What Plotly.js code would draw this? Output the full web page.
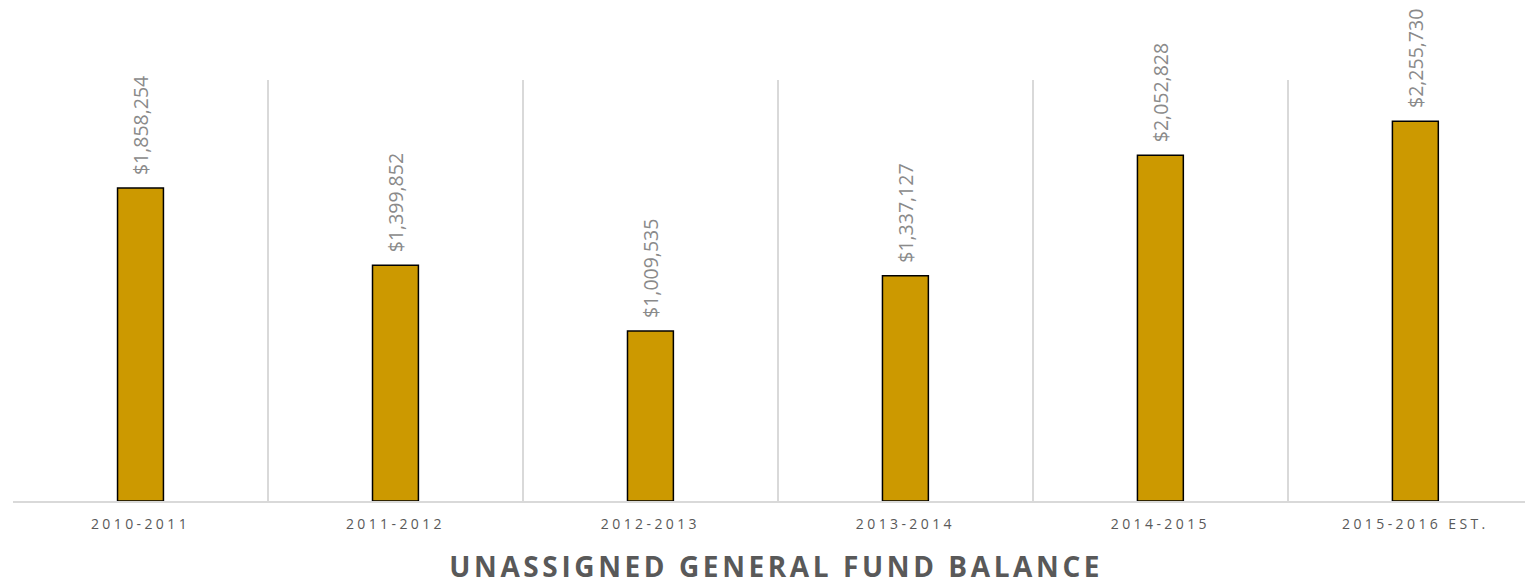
<!DOCTYPE html>
<html>
<head>
<meta charset="utf-8">
<script src="https://cdn.plot.ly/plotly-3.0.1.min.js"></script>
<style>
  html, body { margin: 0; padding: 0; background: #fff; }
  #chart { width: 1525px; height: 584px; }
  .xtick text { letter-spacing: 3.4px; }
  .gtitle { letter-spacing: 3.6px; }
</style>
</head>
<body>
<div id="chart"></div>
<script>
const categories = ["2010-2011", "2011-2012", "2012-2013", "2013-2014", "2014-2015", "2015-2016 EST."];
const balances = [1858254, 1399852, 1009535, 1337127, 2052828, 2255730];
const labels = ["$1,858,254", "$1,399,852", "$1,009,535", "$1,337,127", "$2,052,828", "$2,255,730"];
const chartTitle = "UNASSIGNED GENERAL FUND BALANCE";

const trace = {
  type: "bar",
  x: categories,
  y: balances,
  marker: { color: "#cc9900", line: { color: "#000000", width: 1.5 } },
  width: 0.18,
  hoverinfo: "none"
};

const annotations = categories.map((c, i) => ({
  x: c,
  y: balances[i],
  xref: "x",
  yref: "y",
  text: labels[i],
  showarrow: false,
  textangle: -90,
  xanchor: "center",
  yanchor: "bottom",
  yshift: 11,
  font: { family: "Open Sans, sans-serif", size: 19.5, color: "#8a8a8a" }
}));

const layout = {
  width: 1525,
  height: 584,
  margin: { l: 13, r: 0, t: 80, b: 83 },
  paper_bgcolor: "#ffffff",
  plot_bgcolor: "#ffffff",
  showlegend: false,
  annotations: annotations,
  title: {
    text: "<b>" + chartTitle + "</b>",
    font: { family: "Open Sans, sans-serif", size: 28, color: "#595959" },
    xref: "container", x: 0.509, xanchor: "center",
    yref: "container", y: 1 - 567 / 584, yanchor: "middle"
  },
  xaxis: {
    type: "category",
    range: [-0.5, 5.43],
    tickson: "boundaries",
    showgrid: true,
    gridcolor: "#d9d9d9",
    gridwidth: 1.5,
    showline: true,
    linecolor: "#d9d9d9",
    linewidth: 1.5,
    ticks: "",
    ticklen: 0,
    ticklabelstandoff: 10,
    tickfont: { family: "Open Sans, sans-serif", size: 14, color: "#595959" },
    fixedrange: true
  },
  yaxis: {
    range: [0, 2500000],
    showgrid: false,
    showticklabels: false,
    zeroline: false,
    showline: false,
    ticks: "",
    fixedrange: true
  }
};

Plotly.newPlot("chart", [trace], layout, { displayModeBar: false, staticPlot: true });
</script>
</body>
</html>
